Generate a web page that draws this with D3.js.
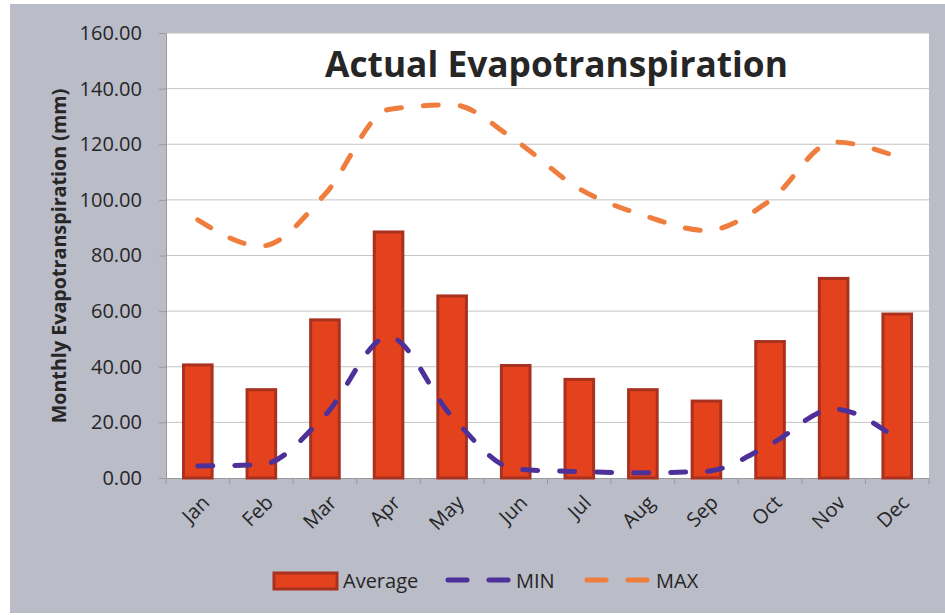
<!DOCTYPE html>
<html>
<head>
<meta charset="utf-8">
<script src="https://cdn.jsdelivr.net/npm/d3@7/dist/d3.min.js"></script>
<style>
  html, body { margin: 0; padding: 0; background: #ffffff; }
  svg { display: block; }
  text { font-family: "Open Sans", "Lato", sans-serif; fill: #262626; }
</style>
</head>
<body>
<svg id="chart" width="945" height="615"></svg>
<script>
// Monthly actual evapotranspiration (mm)
const months = ["Jan", "Feb", "Mar", "Apr", "May", "Jun", "Jul", "Aug", "Sep", "Oct", "Nov", "Dec"];
const averageValues = [41.2, 32.3, 57.4, 89.0, 66.0, 41.0, 36.0, 32.3, 28.2, 49.6, 72.3, 59.5];
const minValues = [4.3, 4.8, 22.5, 50.8, 22.0, 3.2, 2.3, 1.9, 2.4, 12.0, 24.8, 14.0];
const maxValues = [92.8, 83.4, 102.0, 132.5, 134.2, 121.3, 104.0, 94.5, 89.0, 99.8, 120.8, 115.5];
const yTicks = [0, 20, 40, 60, 80, 100, 120, 140, 160];
const seriesNames = ["Average", "MIN", "MAX"];

const W = 945, H = 615;
const plot = { left: 166, right: 929, top: 33, bottom: 478 };
const colors = { barFill: "#e4421d", barStroke: "#a9311f", min: "#4d3199", max: "#ef7d3d", grid: "#c4c4c4", axis: "#9a9a9a" };

const svg = d3.select("#chart");

// chart area background
svg.append("rect")
  .attr("x", 10).attr("y", 4).attr("width", W - 10).attr("height", H - 6)
  .attr("fill", "#babcc7");

// plot area
svg.append("rect")
  .attr("x", plot.left).attr("y", plot.top)
  .attr("width", plot.right - plot.left).attr("height", plot.bottom - plot.top)
  .attr("fill", "#ffffff");

const x = d3.scaleBand().domain(months).range([plot.left, plot.right]).padding(0);
const y = d3.scaleLinear().domain([0, 160]).range([plot.bottom, plot.top]);
const barW = x.bandwidth() * 0.45;
const cx = m => x(m) + x.bandwidth() / 2;

// horizontal gridlines
svg.append("g").selectAll("line").data(yTicks.filter(t => t > 0)).join("line")
  .attr("x1", plot.left).attr("x2", plot.right)
  .attr("y1", d => y(d)).attr("y2", d => y(d))
  .attr("stroke", colors.grid).attr("stroke-width", 1);

// y axis
const yAxis = svg.append("g")
  .attr("transform", `translate(${plot.left},0)`)
  .call(d3.axisLeft(y).tickValues(yTicks).tickFormat(d3.format(".2f")).tickSize(7).tickPadding(17));
yAxis.select(".domain").attr("stroke", colors.axis);
yAxis.selectAll(".tick line").attr("stroke", colors.axis);
yAxis.selectAll("text").attr("font-size", 20).attr("fill", "#262626")
  .style("font-family", '"Open Sans", sans-serif');

// x axis
const xAxis = svg.append("g")
  .attr("transform", `translate(0,${plot.bottom})`)
  .call(d3.axisBottom(x).tickSize(0).tickFormat(""));
xAxis.select(".domain").attr("stroke", colors.axis);
// category separator ticks
svg.append("g").selectAll("line").data(months.concat(["end"])).join("line")
  .attr("x1", (d, i) => plot.left + i * x.step())
  .attr("x2", (d, i) => plot.left + i * x.step())
  .attr("y1", plot.bottom).attr("y2", plot.bottom + 6)
  .attr("stroke", colors.axis);

// rotated month labels
svg.append("g").selectAll("text").data(months).join("text")
  .attr("transform", d => `translate(${cx(d) + 8},${plot.bottom + 21}) rotate(-45)`)
  .attr("text-anchor", "end")
  .attr("dy", "0.35em")
  .attr("font-size", 20)
  .text(d => d);

// average bars
svg.append("g").selectAll("rect").data(averageValues).join("rect")
  .attr("x", (d, i) => cx(months[i]) - barW / 2)
  .attr("y", d => y(d) + 1.5)
  .attr("width", barW)
  .attr("height", d => y(0) - y(d) - 1.5)
  .attr("fill", colors.barFill)
  .attr("stroke", colors.barStroke)
  .attr("stroke-width", 3);

// smoothed dashed lines
const line = d3.line()
  .x((d, i) => cx(months[i]))
  .y(d => y(d))
  .curve(d3.curveMonotoneX);

function drawSeries(values, color) {
  svg.append("path")
    .datum(values)
    .attr("d", line)
    .attr("fill", "none")
    .attr("stroke", color)
    .attr("stroke-width", 5)
    .attr("stroke-linecap", "round")
    .attr("stroke-dasharray", "15,22");
}
drawSeries(maxValues, colors.max);
drawSeries(minValues, colors.min);

// title
const title = svg.append("text")
  .attr("x", (325 + 788) / 2).attr("y", 77)
  .attr("text-anchor", "middle")
  .attr("font-size", 32).attr("font-weight", "bold")
  .attr("fill", "#1a1a1a")
  .text("Actual Evapotranspiration");
{
  const w = title.node().getComputedTextLength();
  title.attr("font-size", 32 * 463 / w);
}

// y axis title
const yTitle = svg.append("text")
  .attr("transform", `translate(66,${256}) rotate(-90)`)
  .attr("text-anchor", "middle")
  .attr("font-size", 18).attr("font-weight", "bold")
  .text("Monthly Evapotranspiration (mm)");
{
  const w = yTitle.node().getComputedTextLength();
  yTitle.attr("font-size", 18 * 335 / w);
}

// legend
const legend = svg.append("g");
legend.append("rect")
  .attr("x", 274).attr("y", 573).attr("width", 63).attr("height", 16)
  .attr("fill", colors.barFill).attr("stroke", colors.barStroke).attr("stroke-width", 3);
legend.append("text").attr("x", 343).attr("y", 588).attr("font-size", 20).text(seriesNames[0]);

[[446, colors.min, 516, seriesNames[1]], [585, colors.max, 656, seriesNames[2]]].forEach(([x0, c, tx, label]) => {
  legend.append("line")
    .attr("x1", x0 + 2).attr("x2", x0 + 64).attr("y1", 580).attr("y2", 580)
    .attr("stroke", c).attr("stroke-width", 5).attr("stroke-linecap", "round")
    .attr("stroke-dasharray", "19,22");
  legend.append("text").attr("x", tx).attr("y", 588).attr("font-size", 20).text(label);
});
</script>
</body>
</html>
